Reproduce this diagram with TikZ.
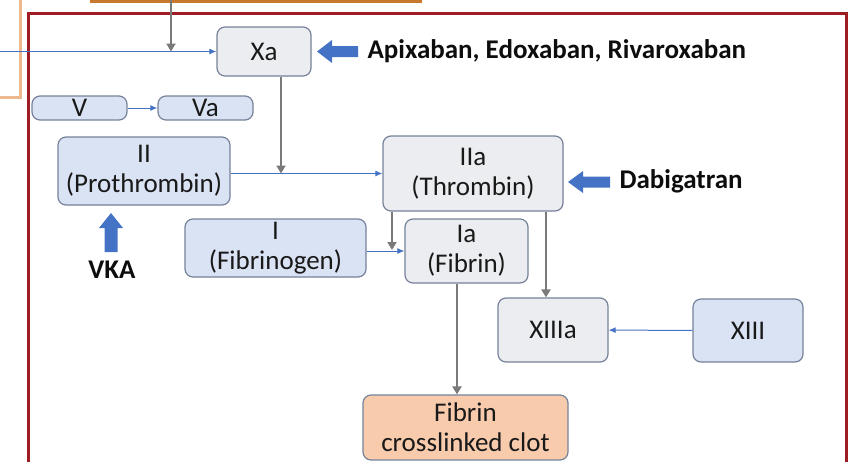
\documentclass[tikz,border=0pt]{standalone}
\usepackage{fontspec}
\setmainfont{Carlito}
\usetikzlibrary{arrows.meta}
\definecolor{boxblue}{HTML}{DAE3F3}
\definecolor{boxgray}{HTML}{ECEDF0}
\definecolor{boxpeach}{HTML}{F8CBAD}
\definecolor{boxedge}{HTML}{75829A}
\definecolor{arrblue}{HTML}{4472C4}
\definecolor{linkgray}{HTML}{7A7A7A}
\definecolor{frame}{HTML}{A01C24}
\definecolor{orangeedge}{HTML}{C8782E}
\definecolor{tanedge}{HTML}{EDB88E}
\tikzset{
  fbox/.style={draw=boxedge, line width=1.2pt, rounded corners=8pt, align=center,
    inner sep=0pt, font=\fontsize{27}{30}\selectfont, text=black!90},
  bluebox/.style={fbox, fill=boxblue},
  graybox/.style={fbox, fill=boxgray},
  peachbox/.style={fbox, fill=boxpeach},
  thinlink/.style={draw=arrblue, line width=1pt, -{Latex[length=7pt,width=6pt]}},
  thicklink/.style={draw=linkgray, line width=2.8pt, -{Triangle[length=8pt,width=9pt]}},
  drug/.style={font=\fontsize{27}{30}\selectfont\bfseries, text=black!95},
  blockarrow/.style={fill=arrblue, draw=none}
}
\begin{document}
\begin{tikzpicture}[x=1pt,y=-1pt]
\useasboundingbox (0,0) rectangle (851,461);
% partial outer boxes
\coordinate (oL) at (90,1);
\coordinate (oR) at (422,1);
\draw[orangeedge, line width=3pt] (oL) -- (oR);
\coordinate (t0) at (0,97);
\coordinate (t1) at (20,97);
\coordinate (t2) at (20,0);
\draw[tanedge, line width=3pt] (t0) -- (t1) -- (t2);
% red frame
\coordinate (f1) at (28,475);
\coordinate (f2) at (846,13);
\draw[frame, line width=3pt] (f1) |- (f2) -- (f2 |- f1);

% nodes
\node[graybox, minimum width=94pt, minimum height=49pt] (Xa) at (264,51.5) {Xa};
\node[bluebox, minimum width=95pt, minimum height=24pt] (V) at (79.5,108) {V};
\node[bluebox, minimum width=95pt, minimum height=24pt] (Va) at (205.5,108) {Va};
\node[bluebox, minimum width=172pt, minimum height=68pt] (II) at (144,171) {II\\(Prothrombin)};
\node[graybox, minimum width=180pt, minimum height=75pt] (IIa) at (473,173.5) {IIa\\(Thrombin)};
\node[bluebox, minimum width=181pt, minimum height=58pt] (I) at (275.5,248) {I\\(Fibrinogen)};
\node[graybox, minimum width=123pt, minimum height=64pt] (Ia) at (466.5,251) {Ia\\(Fibrin)};
\node[graybox, minimum width=110pt, minimum height=64pt] (XIIIa) at (553,330) {XIIIa};
\node[bluebox, minimum width=110pt, minimum height=63pt] (XIII) at (748,330.5) {XIII};
\node[peachbox, minimum width=205pt, minimum height=65pt] (clot) at (465.5,427.5) {Fibrin\\crosslinked clot};

% drug labels
\node[drug, anchor=west] (apx) at (364,51.5) {Apixaban, Edoxaban, Rivaroxaban};
\node[drug, anchor=west] (dab) at (616,181) {Dabigatran};
\node[drug] (vka) at (112,270) {VKA};

% block arrows
\fill[blockarrow] (317,51.5) -- (332,40) -- (332,46) -- (358,46) -- (358,57) -- (332,57) -- (332,63) -- cycle;
\fill[blockarrow] (568,182) -- (583,171) -- (583,176.5) -- (610,176.5) -- (610,187.5) -- (583,187.5) -- (583,193) -- cycle;
\fill[blockarrow] (111,213) -- (99,228) -- (104.5,228) -- (104.5,252) -- (117.5,252) -- (117.5,228) -- (123,228) -- cycle;

% connectors
\coordinate (inL) at (0,51.5);
\coordinate (topIn) at (171,0);
\coordinate (j1) at (171,51.5);
\draw[thinlink] (inL) -- (Xa.west);
\draw[thicklink] (topIn) -- (j1);
\draw[thinlink] (V) -- (Va);
\draw[thinlink] (II.east |- IIa.west) -- (IIa.west);
\coordinate (j2) at (281,173.5);
\draw[thicklink] (Xa.south -| j2) -- (j2);
\draw[thinlink] (I.east |- Ia.west) -- (Ia.west);
\coordinate (j3) at (392,250);
\draw[thicklink] (IIa.south -| j3) -- (j3);
\coordinate (k4) at (546,0);
\draw[thicklink] (IIa.south -| k4) -- (XIIIa.north -| k4);
\draw[thinlink] (XIII) -- (XIIIa);
\coordinate (k5) at (457,0);
\draw[thicklink] (Ia.south -| k5) -- (clot.north -| k5);
\end{tikzpicture}
\end{document}
